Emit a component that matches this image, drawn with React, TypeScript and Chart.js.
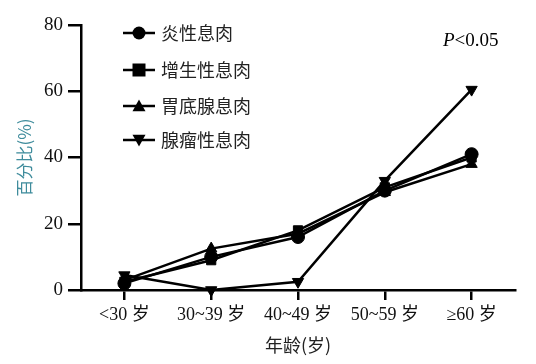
import React, { useEffect, useRef } from "react";
import { Chart, registerables } from "chart.js";

Chart.register(...registerables);

const categories = ["<30 岁", "30~39 岁", "40~49 岁", "50~59 岁", "≥60 岁"];
const seriesNames = ["炎性息肉", "增生性息肉", "胃底腺息肉", "腺瘤性息肉"];
const inflammatory = [2, 10, 16, 30, 41];
const hyperplastic = [2.5, 9, 18, 31, 40];
const fundic = [3, 12.5, 17, 29.5, 38];
const adenoma = [4.5, 0, 2.5, 33, 60.5];
const yTicks = [0, 20, 40, 60, 80];

const SERIF = "'Liberation Serif', 'Noto Sans CJK SC', serif";

const overlayPlugin = {
  id: "overlay",
  afterDraw(chart: any) {
    const ctx = chart.ctx;
    const area = chart.chartArea;
    ctx.save();
    const rows = [33, 70, 106, 140];
    chart.data.datasets.forEach((ds: any, i: number) => {
      const y = rows[i];
      const x0 = area.left + 42;
      const x1 = area.left + 74;
      const cx = (x0 + x1) / 2;
      ctx.strokeStyle = "#000";
      ctx.lineWidth = 2.5;
      ctx.beginPath();
      ctx.moveTo(x0, y);
      ctx.lineTo(x1, y);
      ctx.stroke();
      ctx.fillStyle = "#000";
      const r = 6.5;
      const style = ds.pointStyle;
      ctx.beginPath();
      if (style === "circle") {
        ctx.arc(cx, y, r, 0, Math.PI * 2);
      } else if (style === "rect") {
        ctx.rect(cx - r, y - r, 2 * r, 2 * r);
      } else if (style === "triangle" && !ds.pointRotation) {
        ctx.moveTo(cx, y - r);
        ctx.lineTo(cx + r, y + r * 0.8);
        ctx.lineTo(cx - r, y + r * 0.8);
        ctx.closePath();
      } else {
        ctx.moveTo(cx, y + r);
        ctx.lineTo(cx + r, y - r * 0.8);
        ctx.lineTo(cx - r, y - r * 0.8);
        ctx.closePath();
      }
      ctx.fill();
      ctx.font = "18px 'Noto Sans CJK SC', serif";
      ctx.textBaseline = "middle";
      ctx.textAlign = "left";
      ctx.fillStyle = "#222";
      ctx.fillText(ds.label, x1 + 6, y);
    });
    ctx.textBaseline = "middle";
    ctx.textAlign = "left";
    ctx.fillStyle = "#000";
    ctx.font = "italic 19px 'Liberation Serif', serif";
    const px = 443;
    const py = 41;
    ctx.fillText("P", px, py);
    const w = ctx.measureText("P").width;
    ctx.font = "19px 'Liberation Serif', serif";
    ctx.fillText("<0.05", px + w, py);
    ctx.restore();
  },
};

export default function App() {
  const ref = useRef<HTMLCanvasElement | null>(null);
  useEffect(() => {
    if (!ref.current) return;
    const mk = (label: string, data: number[], pointStyle: string, rot = 0) => ({
      label,
      data,
      borderColor: "#000",
      backgroundColor: "#000",
      borderWidth: 2.5,
      pointStyle,
      pointRotation: rot,
      pointRadius: 6.5,
      pointHoverRadius: 6.5,
      pointBackgroundColor: "#000",
      pointBorderColor: "#000",
      pointBorderWidth: 1,
      tension: 0,
      clip: false as any,
    });
    const chart = new Chart(ref.current, {
      type: "line",
      data: {
        labels: categories,
        datasets: [
          mk(seriesNames[0], inflammatory, "circle"),
          mk(seriesNames[1], hyperplastic, "rect"),
          mk(seriesNames[2], fundic, "triangle"),
          mk(seriesNames[3], adenoma, "triangle", 180),
        ],
      },
      options: {
        animation: false,
        responsive: false,
        devicePixelRatio: 1,
        layout: { padding: { left: 0, right: 21, top: 25, bottom: 0 } },
        plugins: {
          legend: { display: false },
          tooltip: { enabled: false },
        },
        scales: {
          x: {
            offset: true,
            grid: {
              display: true,
              drawOnChartArea: false,
              drawTicks: true,
              tickLength: 10,
              color: "#000",
              lineWidth: 2.5,
              offset: false,
            },
            border: { display: true, color: "#000", width: 2.5 },
            ticks: {
              color: "#111",
              font: { family: SERIF, size: 18 },
              padding: 4,
              maxRotation: 0,
              autoSkip: false,
            },
            title: {
              display: true,
              text: "年龄(岁)",
              color: "#222",
              font: { family: "'Noto Sans CJK SC', serif", size: 18 },
              padding: { top: 4, bottom: 8 },
            },
            afterFit(axis: any) {
              axis.height = 74;
            },
          },
          y: {
            min: 0,
            max: 80,
            afterBuildTicks(axis: any) {
              axis.ticks = yTicks.map((v) => ({ value: v }));
            },
            grid: {
              display: true,
              drawOnChartArea: false,
              drawTicks: true,
              tickLength: 13,
              color: "#000",
              lineWidth: 2.5,
            },
            border: { display: true, color: "#000", width: 2.5 },
            ticks: {
              color: "#111",
              font: { family: SERIF, size: 19 },
              padding: 5,
            },
            title: {
              display: true,
              text: "百分比(%)",
              color: "#3f8c9c",
              font: { family: "'Noto Sans CJK SC', serif", size: 17 },
              padding: { top: 14, bottom: 0 },
            },
            afterFit(axis: any) {
              axis.width = 81;
            },
          },
        },
      },
      plugins: [overlayPlugin],
    });
    return () => chart.destroy();
  }, []);
  return (
    <div style={{ position: "fixed", left: 0, top: 0, width: 536, height: 364, background: "#fff" }}>
      <canvas ref={ref} width={536} height={364} style={{ width: 536, height: 364 }} />
    </div>
  );
}
